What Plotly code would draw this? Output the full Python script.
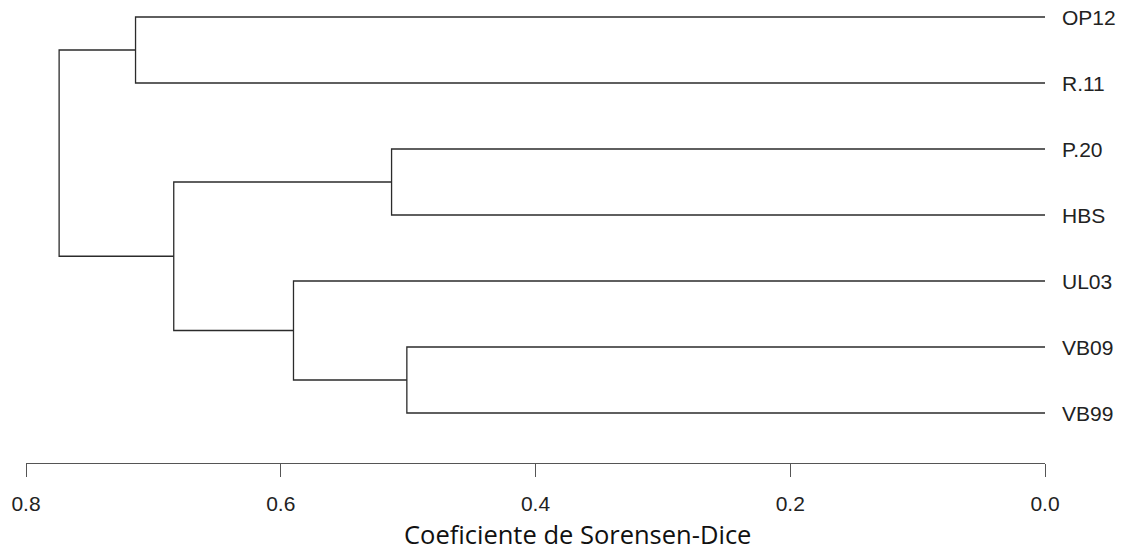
import plotly.graph_objects as go

# Leaves in display order, top to bottom
leaves = ["OP12", "R.11", "P.20", "HBS", "UL03", "VB09", "VB99"]

# Agglomeration steps (R-style: negative = leaf number, positive = earlier merge)
merge_left = [-1, -3, -6, -5, 2, 1]
merge_right = [-2, -4, -7, 3, 4, 5]
merge_height = [0.714, 0.513, 0.501, 0.590, 0.684, 0.774]

x_ticks = [0.8, 0.6, 0.4, 0.2, 0.0]
x_tick_text = ["0.8", "0.6", "0.4", "0.2", "0.0"]
x_title = "Coeficiente de Sorensen-Dice"

n = len(leaves)
leaf_y = {i + 1: n - i for i in range(n)}  # leaf number -> y position

node_x, node_y = {}, {}


def child_pos(c):
    if c < 0:
        return 0.0, leaf_y[-c]
    return node_x[c], node_y[c]


xs, ys = [], []
for k, (a, b, h) in enumerate(zip(merge_left, merge_right, merge_height), start=1):
    ax_, ay_ = child_pos(a)
    bx_, by_ = child_pos(b)
    # horizontal arm for each child, then the vertical joining bar
    xs += [ax_, h, h, bx_, None]
    ys += [ay_, ay_, by_, by_, None]
    node_x[k] = h
    node_y[k] = (ay_ + by_) / 2

W, H = 1124, 552
ml, mr, mt, mb = 26, 79, 0, 89
pw, ph = W - ml - mr, H - mt - mb

fig = go.Figure()
fig.add_trace(go.Scatter(
    x=xs, y=ys, mode="lines",
    line=dict(color="#2b2b2b", width=1.3),
    hoverinfo="skip", showlegend=False,
))

for i, name in enumerate(leaves):
    fig.add_annotation(
        x=0.0, y=leaf_y[i + 1], xref="x", yref="y",
        text=name, showarrow=False, xanchor="left", yanchor="middle",
        xshift=15, font=dict(family="Liberation Sans, Arial", size=21, color="#222222"),
    )

# axis title, sitting on the bottom edge of the figure
title_px = 577
fig.add_annotation(
    x=(title_px - ml) / pw, y=(H - mb - H) / ph,
    xref="paper", yref="paper", text=x_title, showarrow=False,
    xanchor="center", yanchor="bottom", borderpad=0,
    font=dict(family="Open Sans", size=25.5, color="#111111"),
)

fig.update_layout(
    width=W, height=H,
    margin=dict(l=ml, r=mr, t=mt, b=mb),
    paper_bgcolor="white", plot_bgcolor="white",
    showlegend=False,
)
fig.update_xaxes(
    range=[0.8, 0.0], tickvals=x_ticks, ticktext=x_tick_text,
    showline=True, linecolor="#555555", linewidth=1.3,
    ticks="outside", ticklen=13, tickwidth=1.3, tickcolor="#555555",
    ticklabelstandoff=9,
    showgrid=False, zeroline=False,
    tickfont=dict(family="Liberation Sans, Arial", size=21, color="#222222"),
)
fig.update_yaxes(
    range=[1 - 50 / 66, 1 + 413 / 66], visible=False,
    showgrid=False, zeroline=False,
)

fig.write_html("out.html")
